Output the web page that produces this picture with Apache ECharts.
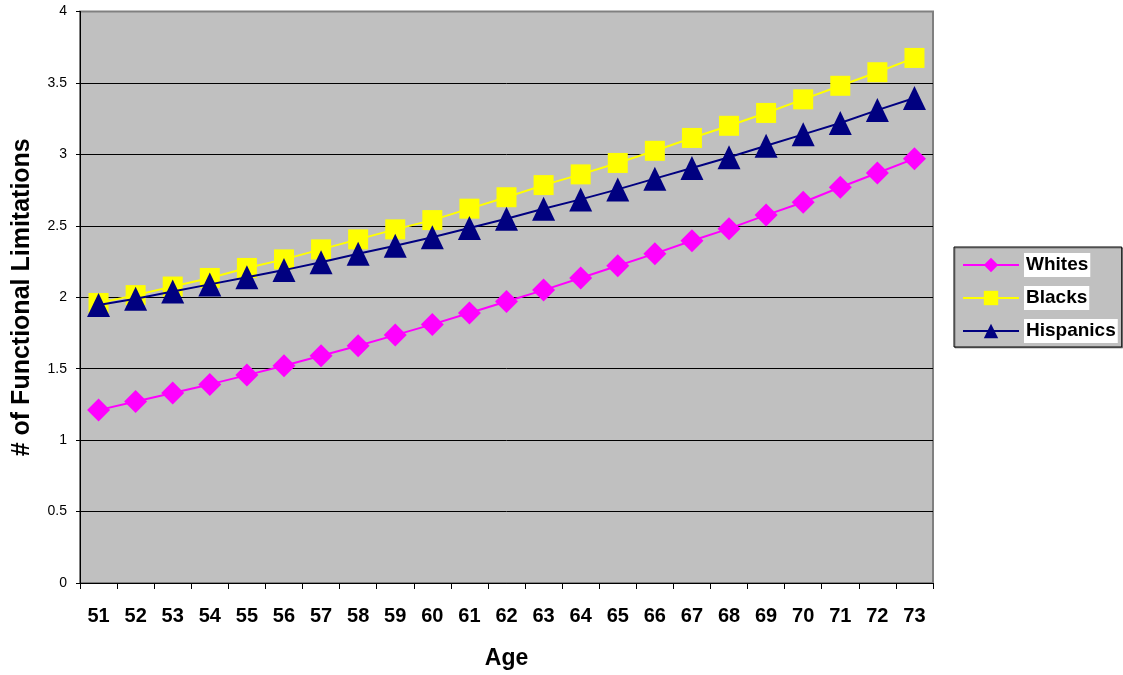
<!DOCTYPE html>
<html>
<head>
<meta charset="utf-8">
<title># of Functional Limitations by Age</title>
<script src="https://cdn.jsdelivr.net/npm/echarts@6/dist/echarts.min.js"></script>
<style>
  html, body { margin: 0; padding: 0; background: #ffffff; }
  #chart { width: 1123px; height: 675px; }
</style>
</head>
<body>
<div id="chart"></div>
<script>
// Ages on the horizontal axis
const ages = ['51','52','53','54','55','56','57','58','59','60','61','62','63','64','65','66','67','68','69','70','71','72','73'];

// Mean number of functional limitations per group
const whites    = [1.21, 1.27, 1.33, 1.39, 1.455, 1.52, 1.59, 1.66, 1.735, 1.81, 1.89, 1.97, 2.05, 2.135, 2.22, 2.305, 2.395, 2.48, 2.575, 2.665, 2.77, 2.87, 2.97];
const blacks    = [1.96, 2.015, 2.075, 2.135, 2.205, 2.265, 2.335, 2.405, 2.475, 2.54, 2.62, 2.70, 2.785, 2.86, 2.94, 3.025, 3.115, 3.2, 3.29, 3.385, 3.48, 3.575, 3.675];
const hispanics = [1.945, 1.99, 2.04, 2.09, 2.14, 2.19, 2.245, 2.305, 2.36, 2.42, 2.485, 2.55, 2.62, 2.685, 2.755, 2.83, 2.905, 2.98, 3.06, 3.14, 3.22, 3.31, 3.395];

const seriesNames = ['Whites', 'Blacks', 'Hispanics'];

const FONT = '"Liberation Sans", Arial, Helvetica, sans-serif';

const chart = echarts.init(document.getElementById('chart'), null, { renderer: 'canvas' });

chart.setOption({
  animation: false,
  backgroundColor: '#ffffff',
  textStyle: { fontFamily: FONT },
  grid: {
    left: 80, right: 190, top: 11.5, bottom: 91.5,
    show: true,
    backgroundColor: '#c0c0c0',
    borderColor: '#808080',
    borderWidth: 2
  },
  legend: {
    data: seriesNames,
    orient: 'vertical',
    left: 954, top: 247,
    padding: [6, 4, 4, 8],
    itemGap: 9,
    itemWidth: 56,
    itemHeight: 18,
    backgroundColor: '#c0c0c0',
    borderColor: '#000000',
    borderWidth: 1,
    shadowColor: 'rgba(0,0,0,0.35)',
    shadowOffsetX: 1,
    shadowOffsetY: 1,
    textStyle: {
      fontFamily: FONT,
      fontSize: 19,
      fontWeight: 'bold',
      color: '#000000',
      lineHeight: 22,
      backgroundColor: '#ffffff',
      padding: [1, 2]
    }
  },
  xAxis: {
    type: 'category',
    data: ages,
    boundaryGap: true,
    name: 'Age',
    nameLocation: 'middle',
    nameGap: 64,
    nameTextStyle: { fontFamily: FONT, fontSize: 23, fontWeight: 'bold', color: '#000000' },
    axisLine: { show: true, onZero: false, lineStyle: { color: '#000000', width: 1 } },
    axisTick: { show: true, interval: 0, length: 6, lineStyle: { color: '#000000' } },
    axisLabel: { interval: 0, margin: 23, fontFamily: FONT, fontSize: 20, fontWeight: 'bold', color: '#000000' },
    splitLine: { show: false }
  },
  yAxis: {
    type: 'value',
    min: 0, max: 4, interval: 0.5,
    name: '# of Functional Limitations',
    nameLocation: 'middle',
    nameGap: 45,
    nameTextStyle: { fontFamily: FONT, fontSize: 25, fontWeight: 'bold', color: '#000000' },
    axisLine: { show: true, lineStyle: { color: '#000000', width: 1 } },
    axisTick: { show: true, length: 4, lineStyle: { color: '#000000' } },
    axisLabel: { margin: 13, fontFamily: FONT, fontSize: 14, color: '#000000' },
    splitLine: { show: true, showMaxLine: false, lineStyle: { color: '#000000', width: 1 } }
  },
  series: [
    {
      name: 'Whites', type: 'line', data: whites,
      symbol: 'diamond', symbolSize: 23,
      itemStyle: { color: '#ff00ff' },
      lineStyle: { color: '#ff00ff', width: 2 },
      z: 2
    },
    {
      name: 'Blacks', type: 'line', data: blacks,
      symbol: 'rect', symbolSize: 20,
      itemStyle: { color: '#ffff00' },
      lineStyle: { color: '#ffff00', width: 2 },
      z: 3
    },
    {
      name: 'Hispanics', type: 'line', data: hispanics,
      symbol: 'triangle', symbolSize: [23, 24],
      itemStyle: { color: '#000080' },
      lineStyle: { color: '#000080', width: 2 },
      z: 4
    }
  ]
});
</script>
</body>
</html>
